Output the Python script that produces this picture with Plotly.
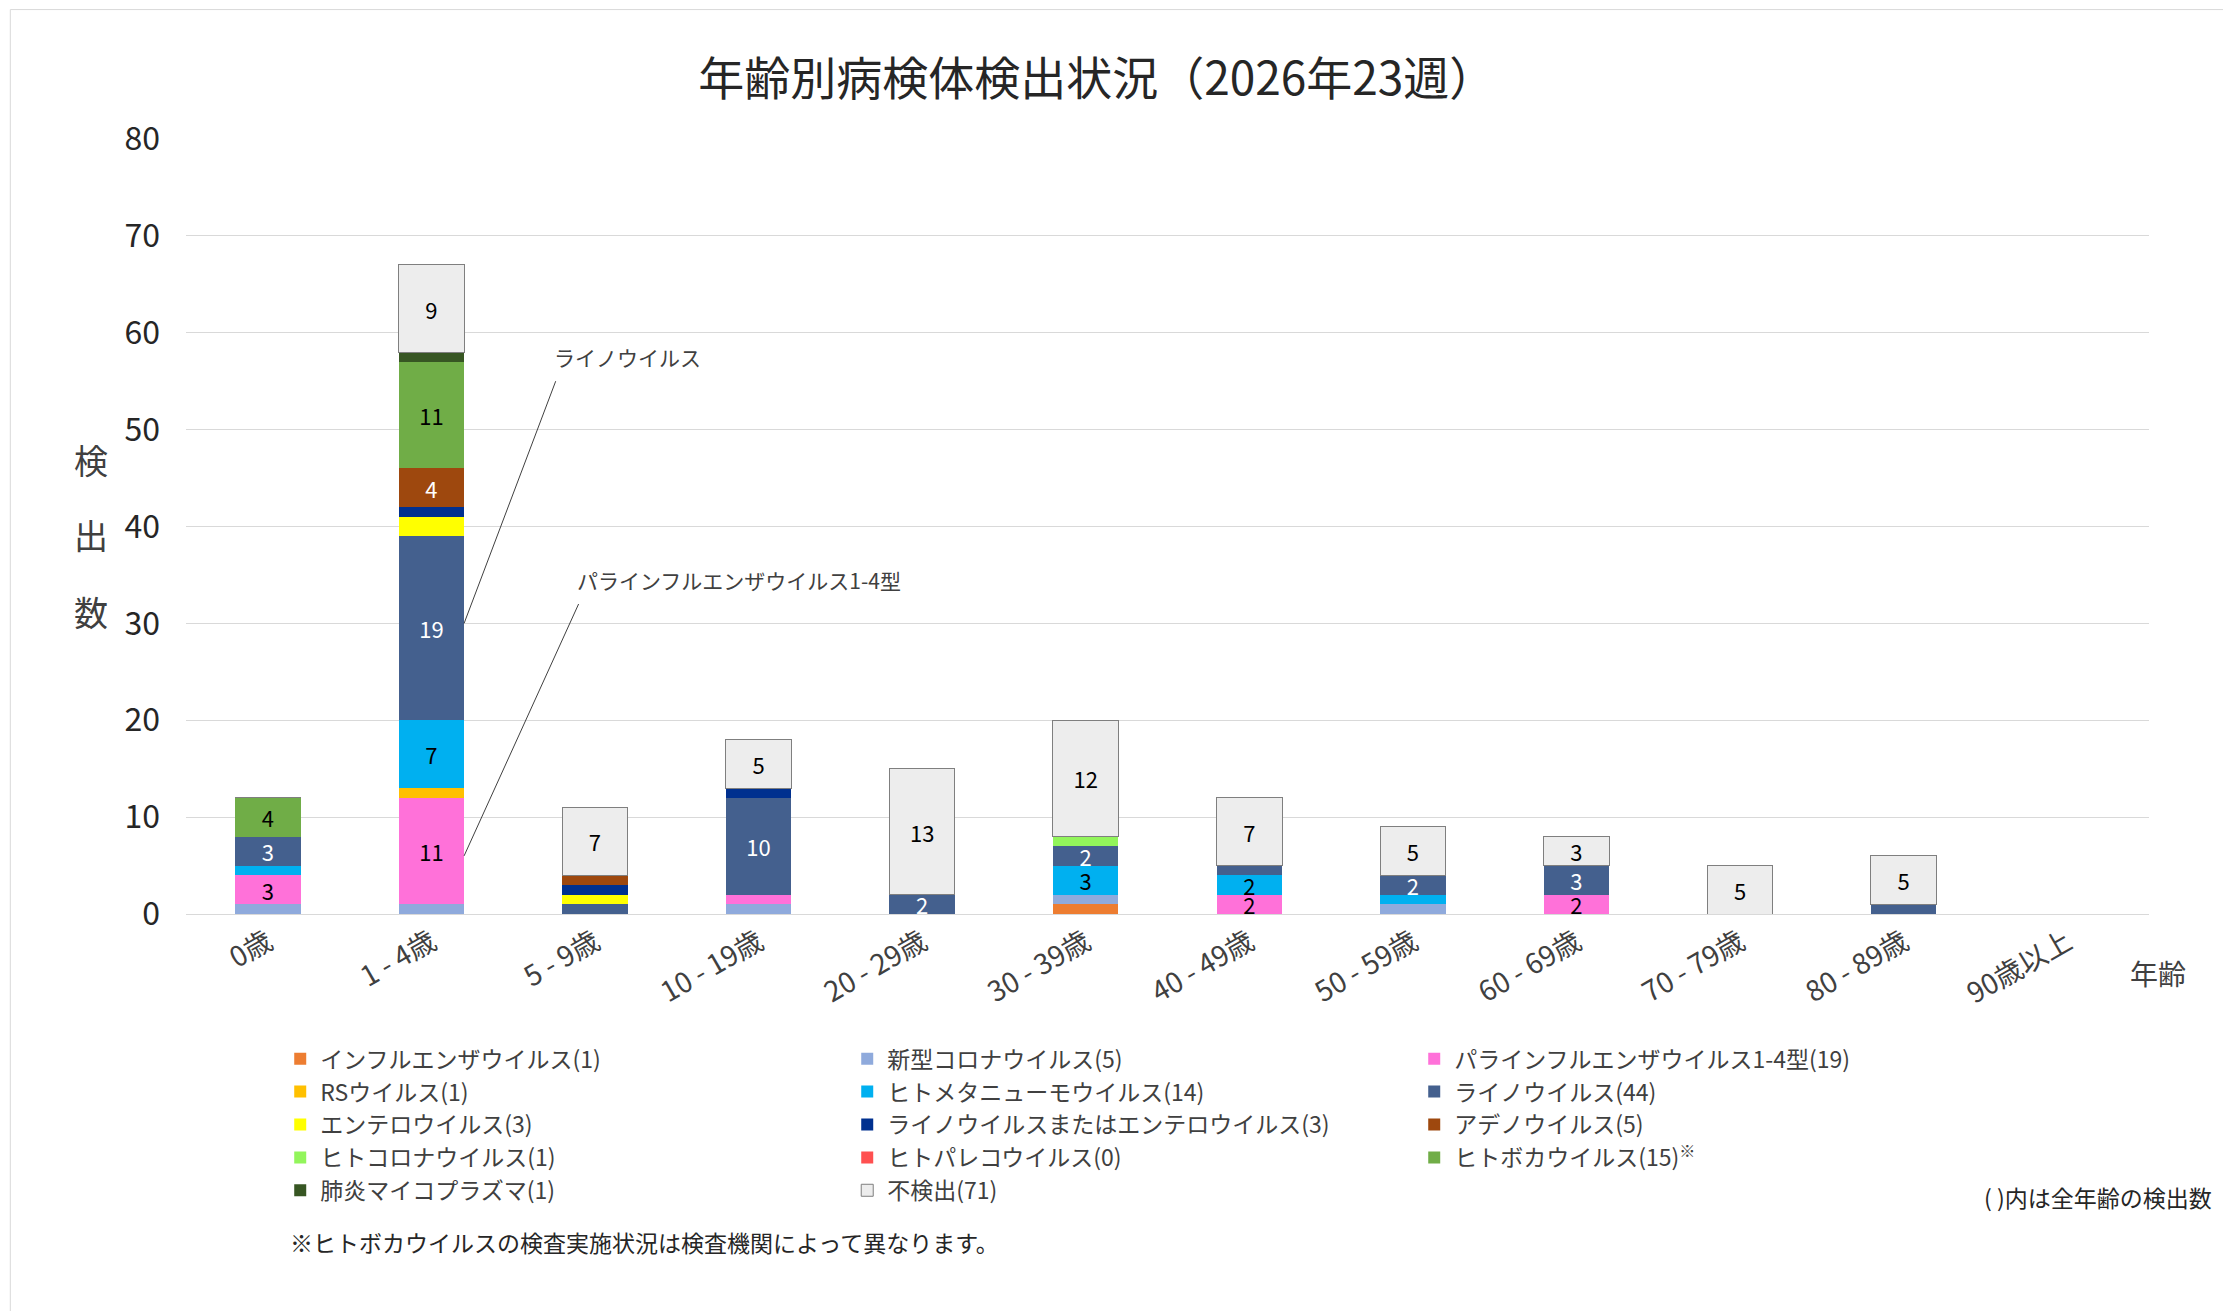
import plotly.graph_objects as go

categories = ["0歳", "1 - 4歳", "5 - 9歳", "10 - 19歳", "20 - 29歳", "30 - 39歳",
              "40 - 49歳", "50 - 59歳", "60 - 69歳", "70 - 79歳", "80 - 89歳", "90歳以上"]

series_names = ["インフルエンザウイルス(1)", "新型コロナウイルス(5)", "パラインフルエンザウイルス1-4型(19)",
                "RSウイルス(1)", "ヒトメタニューモウイルス(14)", "ライノウイルス(44)",
                "エンテロウイルス(3)", "ライノウイルスまたはエンテロウイルス(3)", "アデノウイルス(5)",
                "ヒトコロナウイルス(1)", "ヒトパレコウイルス(0)", "ヒトボカウイルス(15)<sup>※</sup>",
                "肺炎マイコプラズマ(1)", "不検出(71)"]

influenza = [0, 0, 0, 0, 0, 1, 0, 0, 0, 0, 0, 0]
covid     = [1, 1, 0, 1, 0, 1, 0, 1, 0, 0, 0, 0]
para      = [3, 11, 0, 1, 0, 0, 2, 0, 2, 0, 0, 0]
rs        = [0, 1, 0, 0, 0, 0, 0, 0, 0, 0, 0, 0]
hmpv      = [1, 7, 0, 0, 0, 3, 2, 1, 0, 0, 0, 0]
rhino     = [3, 19, 1, 10, 2, 2, 1, 2, 3, 0, 1, 0]
entero    = [0, 2, 1, 0, 0, 0, 0, 0, 0, 0, 0, 0]
rhino_ent = [0, 1, 1, 1, 0, 0, 0, 0, 0, 0, 0, 0]
adeno     = [0, 4, 1, 0, 0, 0, 0, 0, 0, 0, 0, 0]
hcov      = [0, 0, 0, 0, 0, 1, 0, 0, 0, 0, 0, 0]
parecho   = [0, 0, 0, 0, 0, 0, 0, 0, 0, 0, 0, 0]
boca      = [4, 11, 0, 0, 0, 0, 0, 0, 0, 0, 0, 0]
myco      = [0, 1, 0, 0, 0, 0, 0, 0, 0, 0, 0, 0]
negative  = [0, 9, 7, 5, 13, 12, 7, 5, 3, 5, 5, 0]

series_values = [influenza, covid, para, rs, hmpv, rhino, entero, rhino_ent, adeno,
                 hcov, parecho, boca, myco, negative]
colors = ["#ED7D31", "#8FAADC", "#FF71D9", "#FFC000", "#00B0F0", "#44608E",
          "#FFFF00", "#00308F", "#9E480E", "#92F55B", "#FF5050", "#70AD47",
          "#375623", "#EDEDED"]
show_labels = [True] * 14
show_labels[6] = False
text_colors = ["black"] * 14
text_colors[5] = "white"
text_colors[8] = "white"
text_colors[7] = "white"

fig = go.Figure()
for name, vals, col, tc, sl in zip(series_names, series_values, colors, text_colors, show_labels):
    fig.add_trace(go.Bar(
        x=categories, y=vals, name=name,
        marker=dict(color=col, line=dict(color="#7F7F7F" if col == "#EDEDED" else "rgba(0,0,0,0)", width=1)),
        text=[str(v) if (v >= 2 and sl) else "" for v in vals],
        textposition="inside", insidetextanchor="middle", textangle=0,
        constraintext="none", textfont=dict(size=22, color=tc),
        width=0.4, hoverinfo="name+y"))

fig.update_layout(
    barmode="stack", width=2231, height=1311,
    paper_bgcolor="white", plot_bgcolor="white",
    font=dict(family="Noto Sans CJK JP", color="#404040"),
    margin=dict(l=178, r=90, t=131, b=405),
    title=dict(text="年齢別病検体検出状況（2026年23週）", x=0.488, xanchor="center",
               y=0.946, yanchor="middle", font=dict(size=46, color="#262626")),
    xaxis=dict(tickangle=-30, tickfont=dict(size=28, color="#404040"),
               showline=True, linecolor="#D9D9D9", ticks=""),
    yaxis=dict(range=[0, 80], dtick=10, tickfont=dict(size=32, color="#262626"),
               gridcolor="#D9D9D9", zeroline=False, showline=False, ticklabelstandoff=25),
    legend=dict(orientation="h", x=0.048, y=-0.159, xanchor="left", yanchor="top",
                entrywidth=522, entrywidthmode="pixels", traceorder="normal",
                font=dict(size=23, color="#404040"), itemwidth=30, tracegroupgap=0),
    bargap=0.6,
)

fig.add_shape(type="line", xref="x", yref="y", x0=1.2, y0=30, x1=1.76, y1=55,
              line=dict(color="#404040", width=1))
fig.add_shape(type="line", xref="x", yref="y", x0=1.2, y0=6, x1=1.9, y1=32,
              line=dict(color="#404040", width=1))
fig.add_annotation(x=1.74, y=57.5, xref="x", yref="y", text="ライノウイルス", showarrow=False,
                   xanchor="left", font=dict(size=21, color="#404040"))
fig.add_annotation(x=1.88, y=34.5, xref="x", yref="y", text="パラインフルエンザウイルス1-4型",
                   showarrow=False, xanchor="left", font=dict(size=21, color="#404040"))
for ch, yy in zip(["検", "出", "数"], [0.586, 0.49, 0.39]):
    fig.add_annotation(x=-0.058, y=yy, xref="paper", yref="paper", text=ch,
                       showarrow=False, font=dict(size=34, color="#404040"))
fig.add_annotation(x=1.02, y=-0.105, xref="paper", yref="paper", text="年齢",
                   showarrow=False, xanchor="right", font=dict(size=28, color="#404040"))
fig.add_annotation(x=1.033, y=-0.39, xref="paper", yref="paper", text="( )内は全年齢の検出数",
                   showarrow=False, xanchor="right", font=dict(size=23, color="#262626"))
fig.add_annotation(x=0.052, y=-0.448, xref="paper", yref="paper",
                   text="※ヒトボカウイルスの検査実施状況は検査機関によって異なります。",
                   showarrow=False, xanchor="left", font=dict(size=23, color="#262626"))
fig.add_shape(type="rect", xref="paper", yref="paper", x0=-0.0895, x1=1.0455, y0=-0.521, y1=1.167,
              line=dict(color="#D9D9D9", width=1))

fig.write_html("out.html")
